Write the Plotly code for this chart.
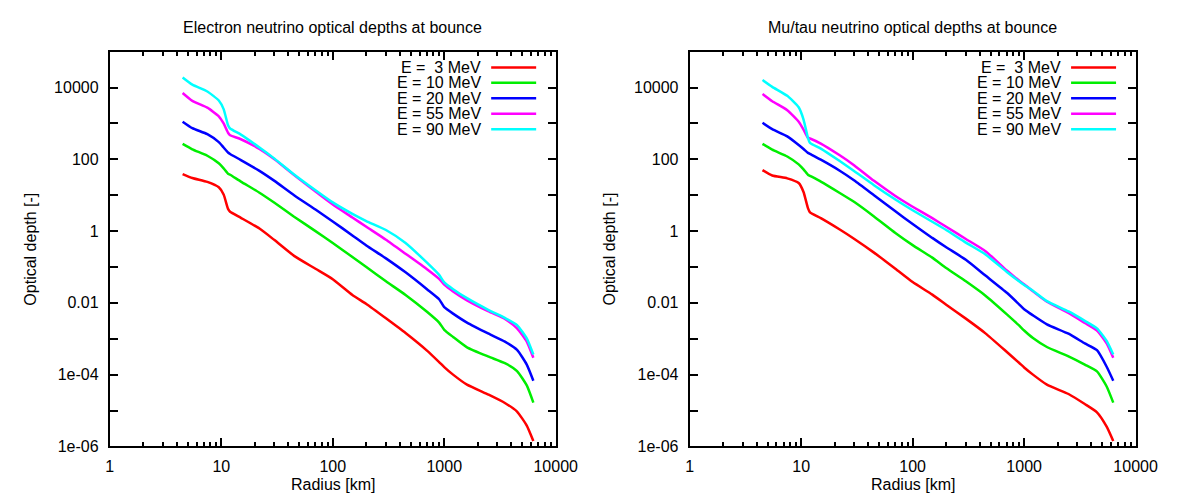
import plotly.graph_objects as go

# ---------------- data ----------------
radius_km = [4.5, 5.5, 7.5, 9.5, 10.5, 11.5, 12, 15, 22, 30, 45, 70, 100, 150, 200,
             300, 450, 700, 900, 1000, 1200, 1600, 2500, 3500, 4500, 5500, 6300]

energies = ["E = \u00a03 MeV", "E = 10 MeV", "E = 20 MeV", "E = 55 MeV", "E = 90 MeV"]
colors = ["#ff0000", "#00ee00", "#0000ff", "#ff00ff", "#00ffff"]

# Electron neutrino optical depths
nue_3 = [38.90, 30.20, 23.44, 16.60, 10.47, 4.169, 3.467, 2.344, 1.175, 0.5623, 0.2042,
         0.08913, 0.04571, 0.01660, 0.009333, 0.003715, 0.001445, 0.0004677, 0.0002239,
         0.0001622, 0.0001, 0.00005248, 0.00002754, 0.00001622, 0.000009333,
         0.000003802, 0.000001413]
nue_10 = [269.2, 190.5, 125.9, 77.62, 56.23, 39.81, 37.15, 23.99, 11.75, 6.166, 2.512,
          1.0, 0.4677, 0.1905, 0.1, 0.03981, 0.01660, 0.005623, 0.002818, 0.001778,
          0.001122, 0.0005754, 0.0003162, 0.0002089, 0.0001259, 0.00005012, 0.00001660]
nue_20 = [1122, 741.3, 501.2, 302.0, 213.8, 154.9, 141.3, 95.50, 47.86, 25.12, 10.0,
          3.981, 1.862, 0.7586, 0.3981, 0.1738, 0.07079, 0.02399, 0.01259, 0.007586,
          0.005012, 0.002818, 0.001380, 0.0008318, 0.0004898, 0.0001905, 0.00006761]
nue_55 = [7079, 4266, 2754, 1585, 1000, 549.5, 467.7, 363.1, 195.0, 100.0, 36.31, 12.59,
          5.495, 2.399, 1.318, 0.5754, 0.2344, 0.08710, 0.04677, 0.03236, 0.02089,
          0.01175, 0.005754, 0.003548, 0.001950, 0.0008318, 0.0002951]
nue_90 = [19050, 12020, 7762, 4365, 2512, 891.3, 724.4, 489.8, 213.8, 104.7, 38.02, 13.80,
          6.310, 3.020, 1.905, 1.072, 0.4677, 0.1318, 0.06026, 0.03715, 0.02399, 0.01349,
          0.006310, 0.003802, 0.002399, 0.001023, 0.0003631]

# Mu/tau neutrino optical depths
numu_3 = [50.12, 35.48, 29.51, 21.88, 12.30, 4.365, 3.311, 2.291, 1.122, 0.6026, 0.2512,
          0.08913, 0.03802, 0.01698, 0.008913, 0.003631, 0.001413, 0.0004266, 0.0002138,
          0.0001585, 0.0001, 0.00005248, 0.00002884, 0.00001514, 0.000008913,
          0.000003548, 0.000001413]
numu_10 = [269.2, 186.2, 120.2, 72.44, 52.48, 37.15, 34.67, 23.99, 11.75, 6.457, 2.570,
           0.8913, 0.4074, 0.1820, 0.09333, 0.03981, 0.01585, 0.004786, 0.002344,
           0.001698, 0.001047, 0.0005888, 0.0003236, 0.0001905, 0.0001230, 0.00004677,
           0.00001660]
numu_20 = [1047, 691.8, 436.5, 251.2, 195.0, 151.4, 141.3, 97.72, 48.98, 25.70, 10.0,
           3.548, 1.585, 0.6457, 0.3548, 0.1585, 0.05754, 0.01905, 0.009120, 0.006607,
           0.004467, 0.002512, 0.001380, 0.0007413, 0.0004786, 0.0001660, 0.00006761]
numu_55 = [6607, 4169, 2344, 1122, 676.1, 398.1, 380.2, 275.4, 131.8, 67.61, 25.12, 9.550,
           4.786, 2.291, 1.318, 0.6026, 0.2754, 0.07943, 0.04169, 0.03311, 0.02089,
           0.01072, 0.005248, 0.002754, 0.001698, 0.0007413, 0.0002951]
numu_90 = [16220, 10470, 5888, 2818, 1288, 398.1, 288.4, 199.5, 91.20, 46.77, 19.05, 7.586,
           3.802, 1.820, 1.072, 0.4786, 0.2239, 0.07244, 0.03981, 0.03162, 0.02188,
           0.01122, 0.005754, 0.003162, 0.001950, 0.0008710, 0.0003631]

panel_titles = ["Electron neutrino optical depths at bounce",
                "Mu/tau neutrino optical depths at bounce"]
x_title = "Radius [km]"
y_title = "Optical depth [-]"

x_tickvals = [1, 10, 100, 1000, 10000]
x_ticktext = ["1", "10", "100", "1000", "10000"]
y_tickvals = [1e-6, 1e-5, 1e-4, 1e-3, 1e-2, 1e-1, 1, 10, 100, 1000, 10000, 1e5]
y_ticktext = ["1e-06", "", "1e-04", "", "0.01", "", "1", "", "100", "", "10000", ""]

# ---------------- layout geometry (pixels of a 1177x495 canvas) ----------------
W, H = 1177, 495
panels = [(100, 556), (693, 1149)]  # left/right pixel edges of each plot frame
top_px, bottom_px = 44.5, 446.5
FONT = "Liberation Sans, Arial, Helvetica, sans-serif"
FS = 16

fig = go.Figure()

series = [[nue_3, nue_10, nue_20, nue_55, nue_90],
          [numu_3, numu_10, numu_20, numu_55, numu_90]]

for p, panel_series in enumerate(series):
    xa = "x" if p == 0 else "x2"
    ya = "y" if p == 0 else "y2"
    for name, col, tau in zip(energies, colors, panel_series):
        fig.add_trace(go.Scatter(x=radius_km, y=tau, mode="lines", name=name,
                                 line=dict(color=col, width=2.5, shape="spline",
                                           smoothing=0.5),
                                 xaxis=xa, yaxis=ya, showlegend=False))

minor_x = [m * 10 ** d for d in range(4) for m in range(2, 10)]

def xaxis_cfg(dom, anchor):
    return dict(type="log", range=[0, 4], domain=dom, anchor=anchor,
                tickmode="array", tickvals=x_tickvals, ticktext=x_ticktext,
                ticks="inside", ticklen=8, tickwidth=1.5, tickcolor="black",
                showline=True, linewidth=2, linecolor="black", mirror="allticks",
                showgrid=False, zeroline=False, ticklabelstandoff=4,
                tickfont=dict(family=FONT, size=FS, color="black"),
                minor=dict(tickmode="array", tickvals=minor_x, ticks="inside",
                           ticklen=4, tickwidth=1.5, tickcolor="black", showgrid=False))

def yaxis_cfg(anchor):
    return dict(type="log", range=[-6, 5],
                domain=[1 - bottom_px / H, 1 - top_px / H], anchor=anchor,
                tickmode="array", tickvals=y_tickvals, ticktext=y_ticktext,
                ticks="inside", ticklen=8, tickwidth=1.5, tickcolor="black",
                showline=True, linewidth=2, linecolor="black", mirror="allticks",
                showgrid=False, zeroline=False, ticklabelstandoff=6,
                tickfont=dict(family=FONT, size=FS, color="black"))

doms = [[a / W, b / W] for a, b in panels]
fig.update_layout(
    xaxis=xaxis_cfg(doms[0], "y"), yaxis=yaxis_cfg("x"),
    xaxis2=xaxis_cfg(doms[1], "y2"), yaxis2=yaxis_cfg("x2"),
)

annotations = []
shapes = []
row_y = [60.5, 76.25, 92.0, 107.75, 123.5]
ylabel_x = [18, 611]
for p, (a, b) in enumerate(panels):
    cx = (a + b) / 2 / W
    annotations.append(dict(text=panel_titles[p], x=cx, y=1 - 20 / H, xref="paper",
                            yref="paper", showarrow=False, xanchor="center",
                            yanchor="middle", font=dict(family=FONT, size=FS)))
    annotations.append(dict(text=x_title, x=cx, y=1 - 485 / H, xref="paper",
                            yref="paper", showarrow=False, xanchor="center",
                            yanchor="middle", font=dict(family=FONT, size=FS)))
    annotations.append(dict(text=y_title, x=ylabel_x[p] / W,
                            y=1 - (top_px + bottom_px) / 2 / H, xref="paper",
                            yref="paper", showarrow=False, textangle=-90,
                            xanchor="center", yanchor="middle",
                            font=dict(family=FONT, size=FS)))
    for i, (name, col) in enumerate(zip(energies, colors)):
        yy = 1 - row_y[i] / H
        annotations.append(dict(text=name, x=(b - 74) / W, y=yy, xref="paper",
                                yref="paper", showarrow=False, xanchor="right",
                                yanchor="middle", font=dict(family=FONT, size=FS)))
        shapes.append(dict(type="line", xref="paper", yref="paper",
                           x0=(b - 66) / W, x1=(b - 20) / W, y0=yy, y1=yy,
                           line=dict(color=col, width=2.5)))

fig.update_layout(
    width=W, height=H, margin=dict(l=0, r=0, t=0, b=0),
    paper_bgcolor="white", plot_bgcolor="white",
    font=dict(family=FONT, size=FS, color="black"),
    annotations=annotations, shapes=shapes, showlegend=False,
)

fig.write_html("out.html")
